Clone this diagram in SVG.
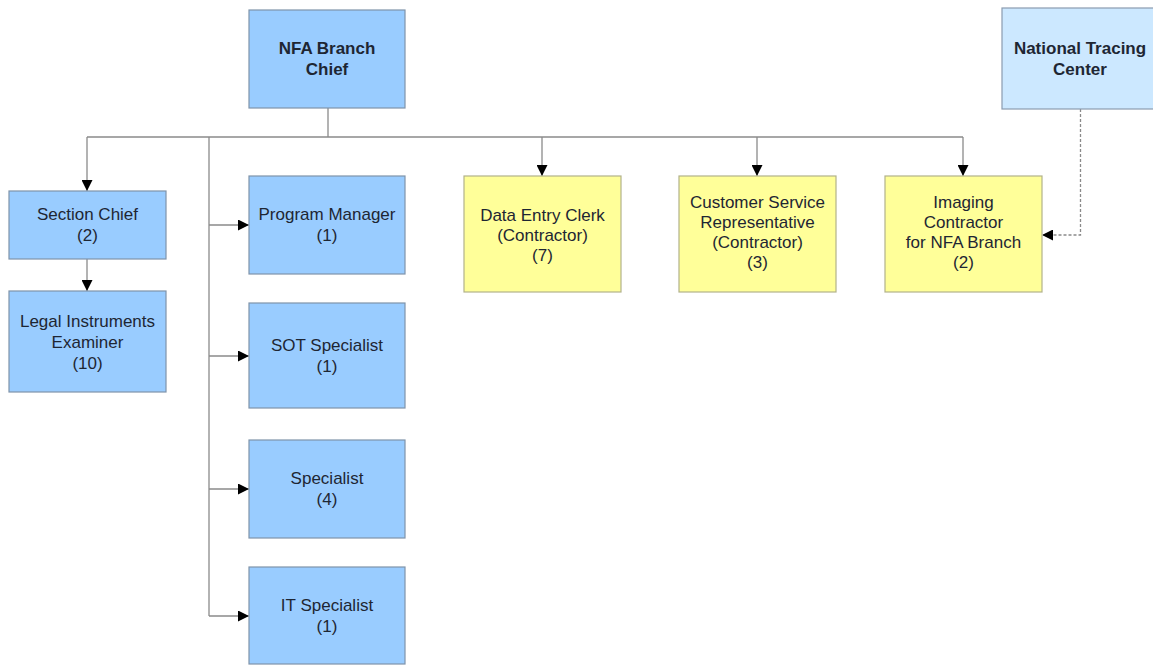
<svg xmlns="http://www.w3.org/2000/svg" width="1153" height="666" viewBox="0 0 1153 666">
<style>
.bg{fill:#ffffff}
.blue rect{fill:#99ccff;stroke:#7f93aa;stroke-width:1.2}
.light rect{fill:#cce8ff;stroke:#8a9bb0;stroke-width:1.2}
.yellow rect{fill:#ffff99;stroke:#b2b28a;stroke-width:1.2}
text{font-family:"Liberation Sans",Arial,sans-serif;font-size:17px;text-anchor:middle;fill:#1e2633}
.b text{font-weight:bold}
.conn path{fill:none;stroke:#8a8a8a;stroke-width:1.3}
.conn path.dash{stroke-dasharray:3 2}
</style>
<defs>
<marker id="arr" markerUnits="userSpaceOnUse" markerWidth="11" markerHeight="11" viewBox="0 0 10 10" refX="10" refY="5" orient="auto">
<path d="M0,0 L10,5 L0,10 z" fill="#000"/>
</marker>
</defs>
<rect class="bg" x="0" y="0" width="1153" height="666"/>
<g id="connectors" class="conn">
<path d="M328,108 V137"/>
<path d="M87,137 H963"/>
<path d="M87,137 V191" marker-end="url(#arr)"/>
<path d="M87,259 V291" marker-end="url(#arr)"/>
<path d="M209,137 V616"/>
<path d="M209,225 H249" marker-end="url(#arr)"/>
<path d="M209,356 H249" marker-end="url(#arr)"/>
<path d="M209,489 H249" marker-end="url(#arr)"/>
<path d="M209,616 H249" marker-end="url(#arr)"/>
<path d="M542,137 V176" marker-end="url(#arr)"/>
<path d="M757,137 V176" marker-end="url(#arr)"/>
<path d="M963,137 V176" marker-end="url(#arr)"/>
<path class="dash" d="M1080.5,109 V235 H1042" marker-end="url(#arr)"/>
</g>
<g id="nfa-branch-chief" class="blue b">
<rect x="249" y="10" width="156" height="98"/>
<text x="327" y="54">NFA Branch</text>
<text x="327" y="75">Chief</text>
</g>
<g id="national-tracing-center" class="light b">
<rect x="1002" y="8" width="160" height="101"/>
<text x="1080" y="54">National Tracing</text>
<text x="1080" y="75">Center</text>
</g>
<g id="section-chief" class="blue">
<rect x="9" y="191" width="157" height="68"/>
<text x="87.5" y="220">Section Chief</text>
<text x="87.5" y="241">(2)</text>
</g>
<g id="legal-instruments-examiner" class="blue">
<rect x="9" y="291" width="157" height="101"/>
<text x="87.5" y="327">Legal Instruments</text>
<text x="87.5" y="348">Examiner</text>
<text x="87.5" y="369">(10)</text>
</g>
<g id="program-manager" class="blue">
<rect x="249" y="176" width="156" height="98"/>
<text x="327" y="220">Program Manager</text>
<text x="327" y="241">(1)</text>
</g>
<g id="sot-specialist" class="blue">
<rect x="249" y="303" width="156" height="105"/>
<text x="327" y="351">SOT Specialist</text>
<text x="327" y="372">(1)</text>
</g>
<g id="specialist" class="blue">
<rect x="249" y="440" width="156" height="98"/>
<text x="327" y="484">Specialist</text>
<text x="327" y="505">(4)</text>
</g>
<g id="it-specialist" class="blue">
<rect x="249" y="567" width="156" height="97"/>
<text x="327" y="611">IT Specialist</text>
<text x="327" y="632">(1)</text>
</g>
<g id="data-entry-clerk" class="yellow">
<rect x="464" y="176" width="157" height="116"/>
<text x="542.5" y="221">Data Entry Clerk</text>
<text x="542.5" y="241">(Contractor)</text>
<text x="542.5" y="261">(7)</text>
</g>
<g id="customer-service-representative" class="yellow">
<rect x="679" y="176" width="157" height="116"/>
<text x="757.5" y="208">Customer Service</text>
<text x="757.5" y="228">Representative</text>
<text x="757.5" y="248">(Contractor)</text>
<text x="757.5" y="268">(3)</text>
</g>
<g id="imaging-contractor" class="yellow">
<rect x="885" y="176" width="157" height="116"/>
<text x="963.5" y="208">Imaging</text>
<text x="963.5" y="228">Contractor</text>
<text x="963.5" y="248">for NFA Branch</text>
<text x="963.5" y="268">(2)</text>
</g>
</svg>
